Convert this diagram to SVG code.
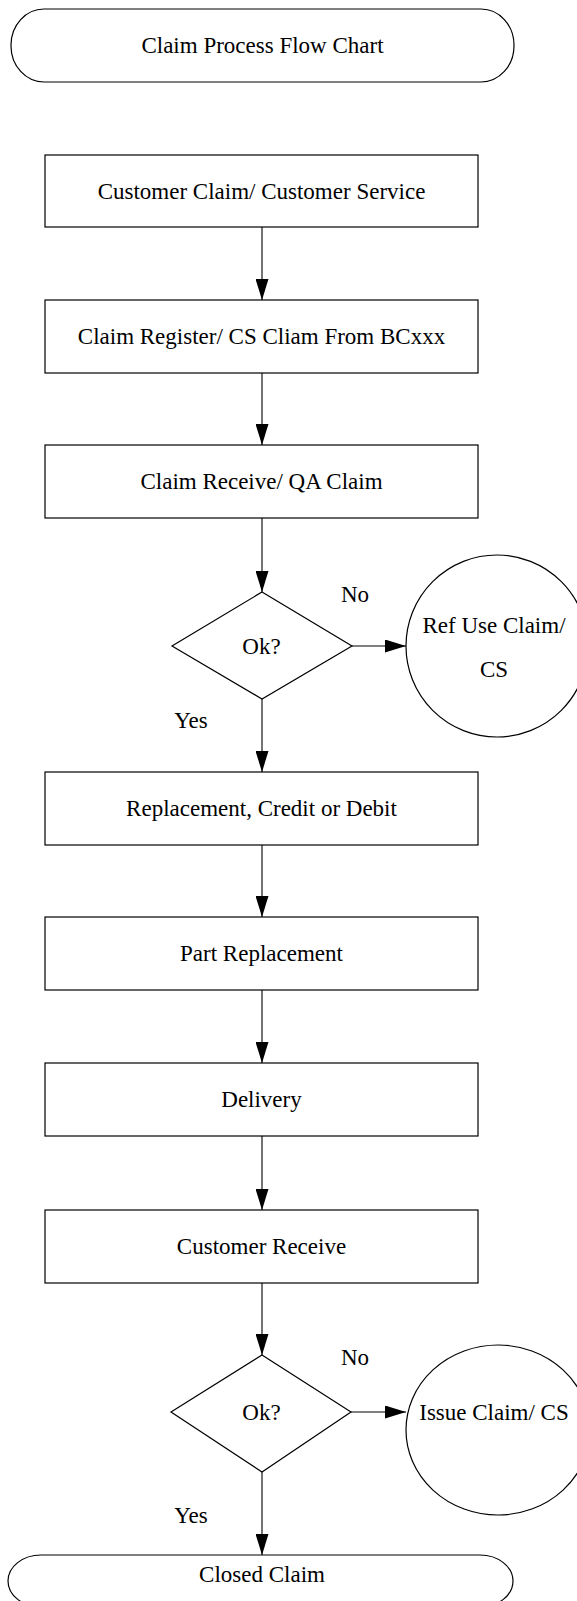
<svg xmlns="http://www.w3.org/2000/svg" width="577" height="1601" viewBox="0 0 577 1601">
  <style>
    .shape { fill: #ffffff; stroke: #000000; stroke-width: 1.2; }
    .edge { fill: none; stroke: #000000; stroke-width: 1.1; }
    .label { font-family: "Liberation Serif", "Times New Roman", serif; font-size: 23px; fill: #000000; text-anchor: middle; }
  </style>
  <defs>
    <marker id="arrow" markerUnits="userSpaceOnUse" markerWidth="21" markerHeight="13" refX="21" refY="6.5" orient="auto">
      <path d="M0,0 L21,6.5 L0,13 Z" fill="#000000"/>
    </marker>
  </defs>
  <rect width="577" height="1601" fill="#ffffff"/>

  <!-- connectors -->
  <g id="connectors">
    <line class="edge" x1="262" y1="227" x2="262" y2="300" marker-end="url(#arrow)"/>
    <line class="edge" x1="262" y1="373" x2="262" y2="445" marker-end="url(#arrow)"/>
    <line class="edge" x1="262" y1="518" x2="262" y2="592" marker-end="url(#arrow)"/>
    <line class="edge" x1="352" y1="646" x2="406" y2="646" marker-end="url(#arrow)"/>
    <line class="edge" x1="262" y1="699" x2="262" y2="772" marker-end="url(#arrow)"/>
    <line class="edge" x1="262" y1="845" x2="262" y2="917" marker-end="url(#arrow)"/>
    <line class="edge" x1="262" y1="990" x2="262" y2="1063" marker-end="url(#arrow)"/>
    <line class="edge" x1="262" y1="1136" x2="262" y2="1210" marker-end="url(#arrow)"/>
    <line class="edge" x1="262" y1="1283" x2="262" y2="1355" marker-end="url(#arrow)"/>
    <line class="edge" x1="351" y1="1412" x2="406" y2="1412" marker-end="url(#arrow)"/>
    <line class="edge" x1="262" y1="1472" x2="262" y2="1555" marker-end="url(#arrow)"/>
  </g>

  <!-- start terminator -->
  <g id="title">
    <rect class="shape" x="11" y="9" width="503" height="73" rx="33" ry="36"/>
    <text class="label" x="262.5" y="53">Claim Process Flow Chart</text>
  </g>

  <g id="customer-claim">
    <rect class="shape" x="45" y="155" width="433" height="72"/>
    <text class="label" x="261.5" y="199">Customer Claim/ Customer Service</text>
  </g>

  <g id="claim-register">
    <rect class="shape" x="45" y="300" width="433" height="73"/>
    <text class="label" x="261.5" y="344">Claim Register/ CS Cliam From BCxxx</text>
  </g>

  <g id="claim-receive">
    <rect class="shape" x="45" y="445" width="433" height="73"/>
    <text class="label" x="261.5" y="489">Claim Receive/ QA Claim</text>
  </g>

  <g id="check-qa">
    <polygon class="shape" points="262,592 352,646 262,699 172,646"/>
    <text class="label" x="261.5" y="654">Ok?</text>
    <text class="label" x="355" y="602">No</text>
    <text class="label" x="191" y="728">Yes</text>
  </g>

  <g id="refuse-claim">
    <circle class="shape" cx="497" cy="646" r="91"/>
    <text class="label" x="494" y="633">Ref Use Claim/</text>
    <text class="label" x="494" y="677">CS</text>
  </g>

  <g id="replacement">
    <rect class="shape" x="45" y="772" width="433" height="73"/>
    <text class="label" x="261.5" y="816">Replacement, Credit or Debit</text>
  </g>

  <g id="part-replacement">
    <rect class="shape" x="45" y="917" width="433" height="73"/>
    <text class="label" x="261.5" y="961">Part Replacement</text>
  </g>

  <g id="delivery">
    <rect class="shape" x="45" y="1063" width="433" height="73"/>
    <text class="label" x="261.5" y="1107">Delivery</text>
  </g>

  <g id="customer-receive">
    <rect class="shape" x="45" y="1210" width="433" height="73"/>
    <text class="label" x="261.5" y="1254">Customer Receive</text>
  </g>

  <g id="check-receive">
    <polygon class="shape" points="262,1355 351,1412 262,1472 171,1412"/>
    <text class="label" x="261.5" y="1420">Ok?</text>
    <text class="label" x="355" y="1365">No</text>
    <text class="label" x="191" y="1523">Yes</text>
  </g>

  <g id="issue-claim">
    <ellipse class="shape" cx="498" cy="1430" rx="92" ry="85"/>
    <text class="label" x="494" y="1420">Issue Claim/ CS</text>
  </g>

  <!-- end terminator -->
  <g id="closed-claim">
    <rect class="shape" x="8" y="1555" width="505" height="52" rx="33" ry="26"/>
    <text class="label" x="262" y="1582">Closed Claim</text>
  </g>
</svg>
